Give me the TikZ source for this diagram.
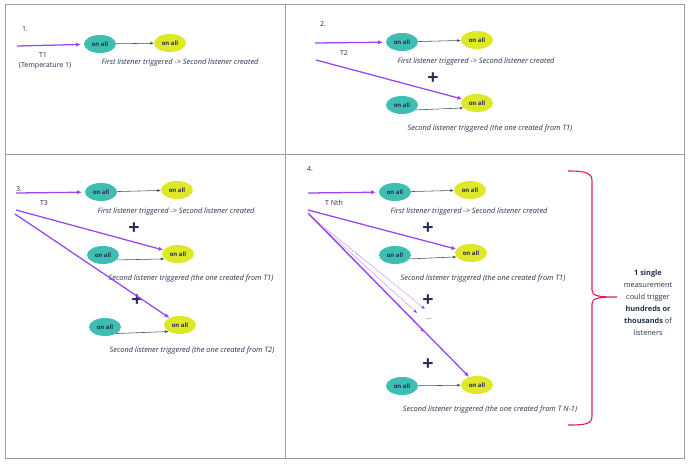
\documentclass[tikz,border=0pt]{standalone}
\usepackage{fontspec}
\setmainfont{Open Sans}
\usetikzlibrary{arrows.meta,positioning,shapes.geometric}
\definecolor{tealfill}{RGB}{62,190,178}
\definecolor{limefill}{RGB}{222,232,40}
\definecolor{trigviolet}{RGB}{155,68,240}
\definecolor{inkblue}{RGB}{38,48,78}
\definecolor{bracered}{RGB}{226,32,82}

\begin{document}
\begin{tikzpicture}[x=0.05cm,y=-0.05cm,>=Latex,
  tealbox/.style={ellipse,fill=tealfill,minimum width=1.6cm,minimum height=0.9cm,inner sep=0pt,font=\fontsize{8.5}{9}\selectfont\bfseries,text=inkblue},
  limebox/.style={tealbox,fill=limefill},
  hit/.style={-{Latex[length=7pt,width=6pt]},trigviolet,line width=1.8pt},
  maybe/.style={-{Latex[length=5pt,width=4.5pt]},trigviolet,line width=0.7pt,densely dotted},
  link/.style={-{Latex[length=5pt,width=4pt]},inkblue!85,line width=0.8pt},
  note/.style={font=\fontsize{10.5}{12}\selectfont\itshape,text=inkblue},
  plus/.style={font=\fontsize{28}{28}\selectfont\bfseries,text=inkblue},
  tag/.style={font=\fontsize{10}{11}\selectfont,text=inkblue}]
  \useasboundingbox (0,0) rectangle (690,465);
  % panel frame
  \draw[gray!75,line width=1.2pt] (5,4) rectangle (684,458);
  \draw[gray!75,line width=1.2pt] (285,4) -- (285,458);
  \draw[gray!75,line width=1.2pt] (5,154) -- (684,154);

  % 1.
  \node[tag] (n1) at (25,29) {1.};
  \coordinate (s1) at (17,46);
  \node[tealbox] (a1) at (100,44) {on all};
  \node[limebox] (b1) at (170,43) {on all};
  \draw[hit,shorten >=4] (s1) -- (a1);
  \draw[link] (a1) -- (b1);
  \node[tag] (t1) at (43,55) {T1};
  \node[tag,below=0pt of t1,xshift=3] (t1b) {(Temperature 1)};
  \node[note] (c1) at (180,63) {First listener triggered -> Second listener created};

  % 2.
  \node[tag] (n2) at (323,24) {2.};
  \coordinate (s2) at (315,43);
  \node[tealbox] (a2) at (402,42) {on all};
  \node[limebox] (b2) at (477,40) {on all};
  \draw[hit,shorten >=4] (s2) -- (a2);
  \draw[link] (a2) -- (b2);
  \node[tag] (t2) at (344,53) {T2};
  \node[note] (c2) at (476,62) {First listener triggered -> Second listener created};
  \node[plus] (p2) at (433,79) {+};
  \coordinate (u2) at (316,60);
  \node[tealbox] (d2) at (402,105) {on all};
  \node[limebox] (e2) at (477,103) {on all};
  \draw[link] (d2.-20) -- (e2.200);
  \draw[hit] (u2) -- (e2);
  \node[note] (f2) at (490,129) {Second listener triggered (the one created from T1)};

  % 3.
  \node[tag] (n3) at (19,189) {3.};
  \coordinate (s3) at (16,193);
  \node[tealbox] (a3) at (101,192) {on all};
  \node[limebox] (b3) at (177,190) {on all};
  \draw[hit,shorten >=4] (s3) -- (a3);
  \draw[link] (a3) -- (b3);
  \node[tag] (t3) at (44,203) {T3};
  \node[note] (c3) at (176,212) {First listener triggered -> Second listener created};
  \node[plus] (p3) at (134,229) {+};
  \coordinate (u3) at (16,210);
  \node[tealbox] (d3) at (103,255) {on all};
  \node[limebox] (e3) at (178,254) {on all};
  \draw[link] (d3.-20) -- (e3.200);
  \draw[hit] (u3) -- (e3);
  \node[note] (f3) at (191,279) {Second listener triggered (the one created from T1)};
  \node[plus] (q3) at (137,301) {+};
  \coordinate (v3) at (15,214);
  \node[tealbox] (g3) at (105,327) {on all};
  \node[limebox] (h3) at (180,325) {on all};
  \draw[link] (g3.-30) -- (h3.210);
  \draw[hit] (v3) -- (h3);
  \node[note] (k3) at (192,351) {Second listener triggered (the one created from T2)};

  % 4.
  \node[tag] (n4) at (310,169) {4.};
  \coordinate (s4) at (308,193);
  \node[tealbox] (a4) at (395,192) {on all};
  \node[limebox] (b4) at (470,190) {on all};
  \draw[hit,shorten >=4] (s4) -- (a4);
  \draw[link] (a4) -- (b4);
  \node[tag] (t4) at (334,203) {T Nth};
  \node[note] (c4) at (469,212) {First listener triggered -> Second listener created};
  \node[plus] (p4) at (428,229) {+};
  \coordinate (u4) at (308,210);
  \node[tealbox] (d4) at (395,255) {on all};
  \node[limebox] (e4) at (471,253) {on all};
  \draw[link] (d4.-15) -- (e4.195);
  \draw[hit] (u4) -- (e4);
  \node[note] (f4) at (483,279) {Second listener triggered (the one created from T1)};
  \node[plus] (q4) at (428,301) {+};
  % the many in between
  \coordinate (w4) at (309,215);
  \coordinate (m1) at (417,313);
  \coordinate (m2) at (425,309);
  \coordinate (m3) at (424,332);
  \foreach \m in {m1,m2,m3}
    \draw[maybe] (w4) -- (\m);
  \node[tag] (dots) at (429,319) {...};
  \node[plus] (r4) at (428,365) {+};
  \coordinate (x4) at (308,213);
  \node[tealbox] (g4) at (402,386) {on all};
  \node[limebox] (h4) at (477,385) {on all};
  \draw[link] (g4) -- (h4);
  \draw[hit] (x4) -- (h4);
  \node[note] (k4) at (490,410) {Second listener triggered (the one created from T N-1)};

  % brace and remark
  \draw[bracered,line width=1.6pt] (568,171) .. controls (586,171) and (592,173) .. (592,181)
    -- (592,290) .. controls (592,296) and (598,297) .. (617,297)
    .. controls (598,297) and (592,298) .. (592,304)
    -- (592,416) .. controls (592,424) and (586,425) .. (568,425);
  \node[align=center,font=\fontsize{10.5}{17}\selectfont,text=inkblue] (say) at (648,303)
    {\textbf{1 single}\\measurement\\could trigger\\\textbf{hundreds or}\\\textbf{thousands} of\\listeners};
\end{tikzpicture}
\end{document}
